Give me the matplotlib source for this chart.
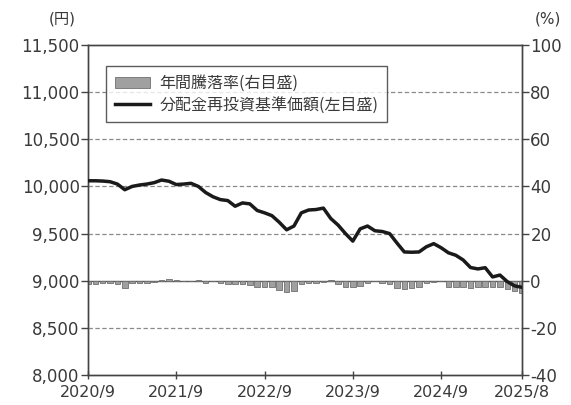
import matplotlib
matplotlib.use("Agg")
import matplotlib.pyplot as plt
from matplotlib.patches import Patch
from matplotlib.lines import Line2D
import numpy as np

plt.rcParams['font.family'] = ['DejaVu Sans', 'Noto Sans CJK JP']

# Monthly data 2020/9 .. 2025/8
nav = [10060, 10060, 10057, 10050, 10025, 9965, 10000, 10015, 10025, 10040,
       10068, 10055, 10020, 10025, 10033, 10000, 9935, 9890, 9860, 9850,
       9790, 9825, 9815, 9745, 9720, 9690, 9620, 9540, 9580, 9720,
       9750, 9755, 9770, 9660, 9590, 9500, 9420, 9550, 9580, 9530,
       9522, 9500, 9400, 9305, 9302, 9305, 9360, 9393, 9350, 9296,
       9270, 9220, 9140, 9125, 9138, 9040, 9060, 8990, 8945, 8930]
ret = [-1.5, -1.5, -1.0, -1.0, -1.5, -3.0, -1.0, -1.0, -1.0, -0.5,
       0.3, 0.8, 0.3, 0.0, 0.0, 0.2, -0.8, 0.0, -1.0, -1.2,
       -1.5, -1.5, -2.0, -2.5, -2.7, -2.8, -4.0, -4.8, -4.5, -1.5,
       -1.0, -0.8, -0.5, 0.5, -1.5, -2.5, -2.7, -2.2, -1.0, 0.0,
       -1.0, -1.5, -3.0, -3.5, -3.2, -2.8, -1.0, -0.5, -0.3, -2.5,
       -2.8, -2.8, -3.0, -2.7, -2.5, -2.5, -2.5, -3.5, -4.5, -5.0]
xtick_pos = [0, 12, 24, 36, 48, 59]
xtick_labels = ['2020/9', '2021/9', '2022/9', '2023/9', '2024/9', '2025/8']
left_ticks = [8000, 8500, 9000, 9500, 10000, 10500, 11000, 11500]
right_ticks = [-40, -20, 0, 20, 40, 60, 80, 100]
legend_labels = ['年間騰落率(右目盛)', '分配金再投資基準価額(左目盛)']

fig = plt.figure(figsize=(5.71, 4.05), dpi=100)
ax = fig.add_axes([88/571, 1 - 375/405, (522 - 88)/571, (375 - 45)/405])
ax2 = ax.twinx()

months = np.arange(len(nav))
tc = '#3a3a3a'

ax2.bar(months, ret, width=0.75, color='#a0a0a0', edgecolor='#707070', linewidth=0.6, zorder=2)
ax2.axhline(0, color='#555555', linewidth=1.0, zorder=1)
ax2.set_ylim(-40, 100)
ax2.set_yticks(right_ticks)
ax2.set_yticklabels([str(v) for v in right_ticks])

ax.set_zorder(ax2.get_zorder() + 1)
ax.patch.set_visible(False)
ax.plot(months, nav, color='#1a1a1a', linewidth=2.5, solid_joinstyle='round', zorder=3)
ax.set_ylim(8000, 11500)
ax.set_yticks(left_ticks)
ax.set_yticklabels([f'{v:,}' for v in left_ticks])
ax.set_xlim(0, 59)
ax.set_xticks(xtick_pos)
ax.set_xticklabels(xtick_labels)

for v in [8500, 9500, 10000, 10500, 11000]:
    ax.axhline(v, color='#8a8a8a', linewidth=0.9, linestyle=(0, (3.5, 2)), zorder=0)

for a in (ax, ax2):
    for s in a.spines.values():
        s.set_color('#444444')
        s.set_linewidth(1.0)
    a.tick_params(axis='y', colors='#444444', labelcolor=tc, labelsize=12,
                  direction='out', length=5, width=1.0, pad=1)
ax.tick_params(axis='x', colors='#444444', labelcolor=tc, labelsize=11.5,
               direction='inout', length=6, width=1.0, pad=4)

fig.text(62/571, 1 - 19/405, '(円)', ha='center', va='center', fontsize=11, color=tc)
fig.text(548/571, 1 - 19/405, '(%)', ha='center', va='center', fontsize=11, color=tc)

handles = [Patch(facecolor='#a0a0a0', edgecolor='#707070', linewidth=0.6),
           Line2D([0], [0], color='#1a1a1a', linewidth=2.5)]
leg = ax.legend(handles, legend_labels, loc='upper left', bbox_to_anchor=(18/434, 1 - 21/330),
                prop={'family': ['Noto Sans CJK JP'], 'size': 11.5},
                frameon=True, fancybox=False, borderpad=0.55, borderaxespad=0,
                handlelength=2.2, handletextpad=0.6, labelspacing=0.3)
leg.get_frame().set_edgecolor('#333333')
leg.get_frame().set_linewidth(1.0)
for t in leg.get_texts():
    t.set_color(tc)

fig.savefig('out.png', dpi=100)
